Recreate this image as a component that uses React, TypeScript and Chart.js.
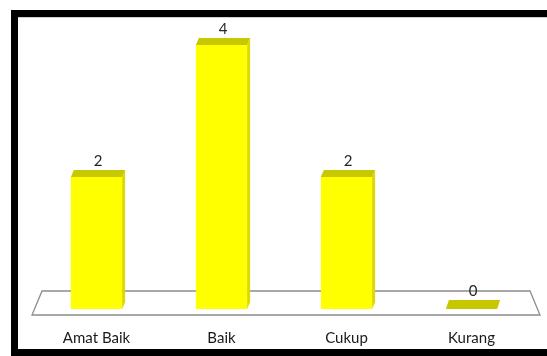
import React, { useEffect, useRef } from "react";
import { Chart, registerables } from "chart.js";

Chart.register(...registerables);

const categories = ["Amat Baik", "Baik", "Cukup", "Kurang"];
const values = [2, 4, 2, 0];
const yMax = 4;

const FRONT = "#FFFF00";
const TOP = "#C8C800";
const SIDE = "#DADA00";
const DX = 3;
const DY = 7;

const bar3d = {
  id: "bar3d",
  beforeDatasetsDraw(chart: any) {
    const { ctx, chartArea } = chart;
    const b = chartArea.bottom;
    ctx.save();
    ctx.strokeStyle = "#8c8c8c";
    ctx.lineWidth = 1.3;
    ctx.beginPath();
    ctx.moveTo(chartArea.left + 8, b - 18);
    ctx.lineTo(chartArea.right - 4, b - 18);
    ctx.lineTo(chartArea.right + 6, b + 6);
    ctx.lineTo(chartArea.left - 2, b + 6);
    ctx.closePath();
    ctx.stroke();
    ctx.restore();
  },
  afterDatasetsDraw(chart: any) {
    const { ctx } = chart;
    const meta = chart.getDatasetMeta(0);
    const xs = chart.scales.x;
    ctx.save();
    meta.data.forEach((el: any, i: number) => {
      const p = el.getProps(["x", "y", "base", "width"], true);
      const l = p.x - p.width / 2;
      const r = p.x + p.width / 2;
      const top = Math.min(p.y, p.base);
      const base = p.base;
      // side face
      if (base - top > 0.5) {
        ctx.fillStyle = SIDE;
        ctx.beginPath();
        ctx.moveTo(r, top);
        ctx.lineTo(r + DX, top - DY);
        ctx.lineTo(r + DX, base - DY);
        ctx.lineTo(r, base);
        ctx.closePath();
        ctx.fill();
      }
      // top face
      const dy = base - top > 0.5 ? DY : DY + 2;
      ctx.fillStyle = TOP;
      ctx.beginPath();
      ctx.moveTo(l, top);
      ctx.lineTo(r, top);
      ctx.lineTo(r + DX, top - dy);
      ctx.lineTo(l + DX, top - dy);
      ctx.closePath();
      ctx.fill();
      // value label
      ctx.fillStyle = "#262626";
      ctx.font = "15px Lato";
      ctx.textAlign = "center";
      ctx.textBaseline = "middle";
      ctx.fillText(String(values[i]), p.x + 1.5, top - dy - 9);
      // category label
      ctx.fillStyle = "#1a1a1a";
      ctx.font = "15px Lato";
      ctx.fillText(categories[i], xs.getPixelForValue(i), chart.chartArea.bottom + 29);
    });
    ctx.restore();
  },
};

export default function App() {
  const ref = useRef<HTMLCanvasElement | null>(null);
  useEffect(() => {
    if (!ref.current) return;
    const chart = new Chart(ref.current, {
      type: "bar",
      data: {
        labels: categories,
        datasets: [
          {
            data: values,
            backgroundColor: FRONT,
            borderWidth: 0,
            categoryPercentage: 1,
            barPercentage: 0.41,
          },
        ],
      },
      options: {
        responsive: false,
        animation: false,
        layout: { padding: { top: 28, bottom: 40, left: 16, right: 13 } },
        plugins: { legend: { display: false }, tooltip: { enabled: false } },
        scales: {
          x: { display: false },
          y: { display: false, min: 0, max: yMax },
        },
      },
      plugins: [bar3d],
    });
    return () => chart.destroy();
  }, []);
  return (
    <div style={{ position: "absolute", left: 0, top: 0, width: 547, height: 356, background: "#fff", overflow: "hidden" }}>
      <div
        style={{
          position: "absolute",
          left: 11,
          top: 10,
          width: 540,
          height: 346,
          boxSizing: "border-box",
          borderLeft: "7px solid #000",
          borderTop: "7px solid #000",
          borderBottom: "7px solid #000",
        }}
      />
      <div style={{ position: "absolute", left: 18, top: 17, width: 529, height: 1, background: "#d0d0d0" }} />
      <canvas ref={ref} width={529} height={332} style={{ position: "absolute", left: 18, top: 17 }} />
    </div>
  );
}
